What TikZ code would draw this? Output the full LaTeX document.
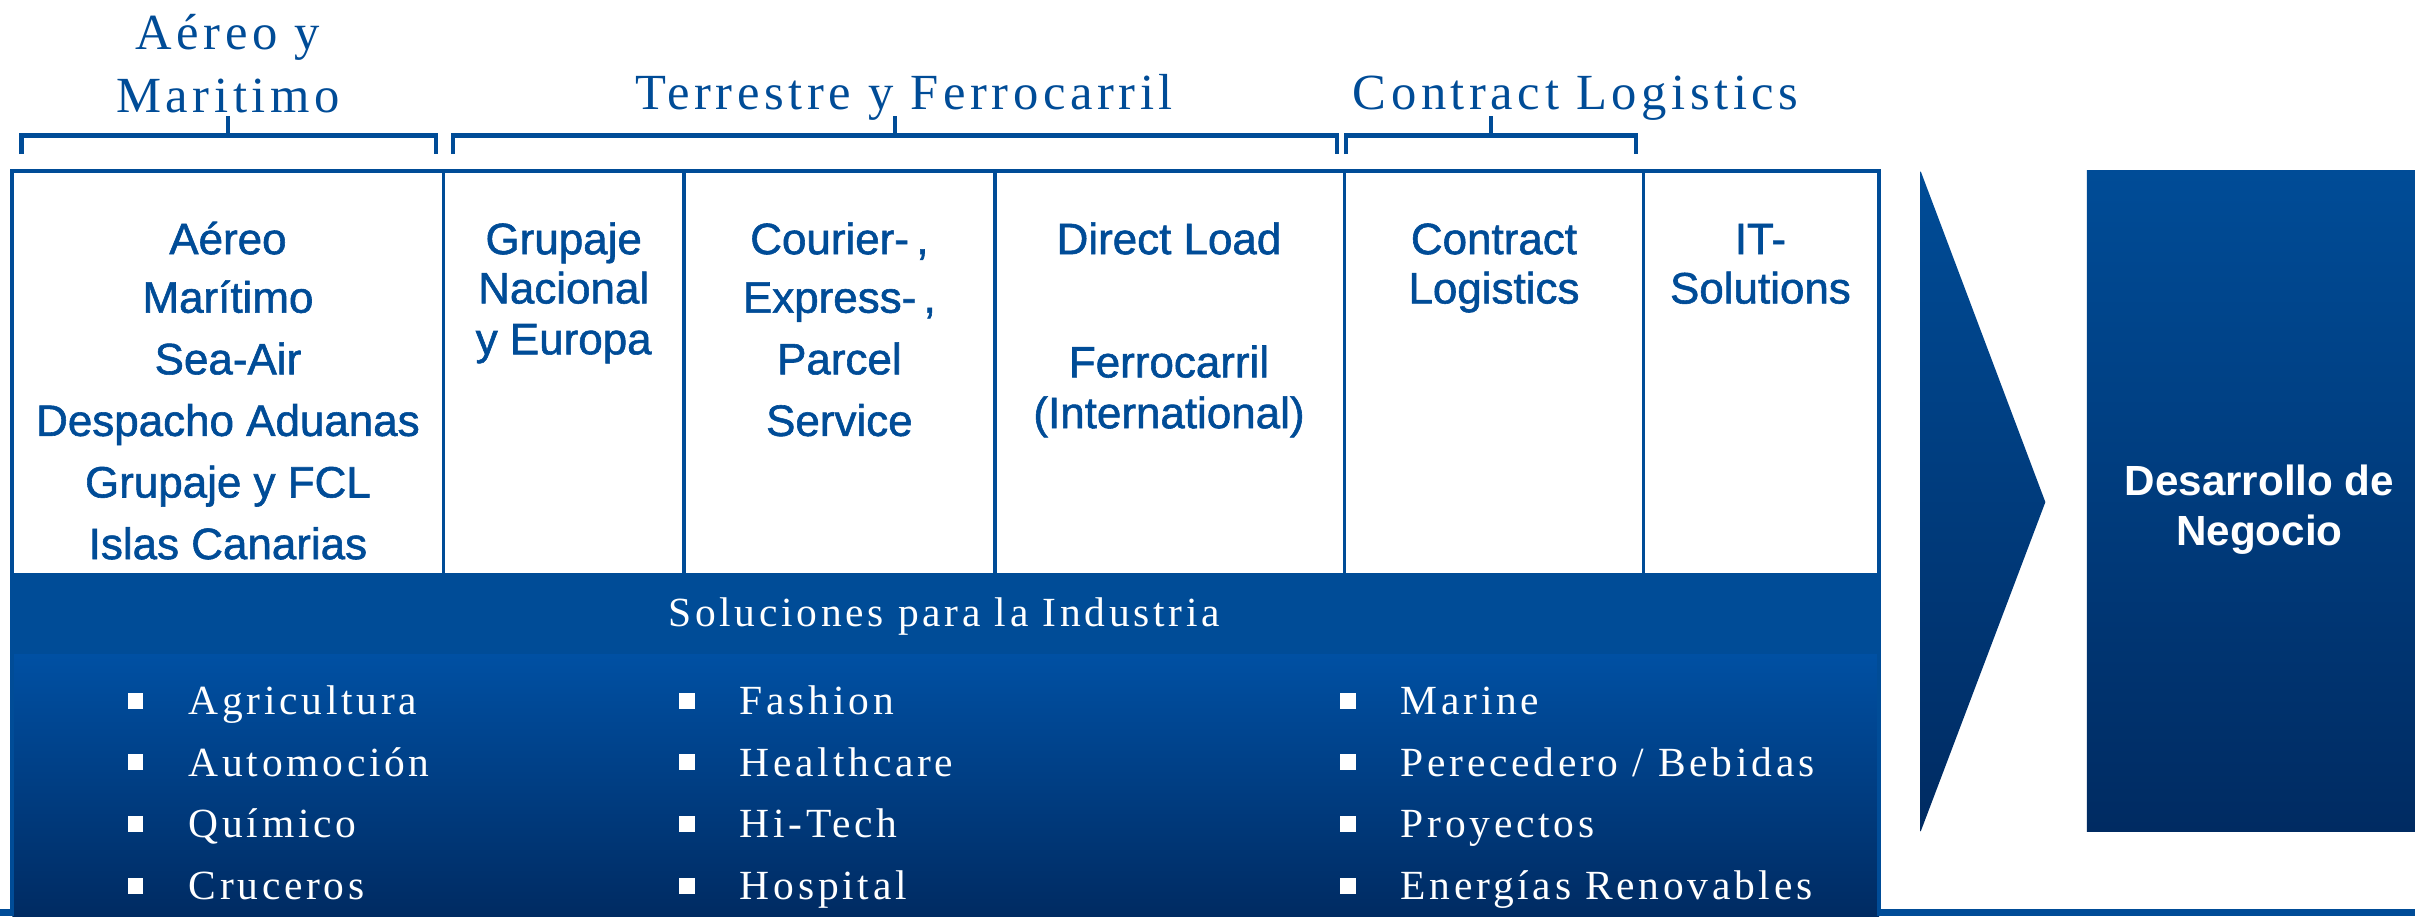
\documentclass[tikz,border=0pt]{standalone}
\usepackage{fontspec}
\setmainfont{Liberation Serif}
\newfontfamily\spacedserif[LetterSpace=9]{Liberation Serif}
\newfontfamily\colsans[FakeBold=1.3]{Liberation Sans}
\newfontfamily\plainsans{Liberation Sans}
\usetikzlibrary{calc}
\definecolor{dbblue}{HTML}{004C97}
\definecolor{dbmid}{HTML}{0050A3}
\definecolor{dbdark}{HTML}{002B62}
\tikzset{header/.style={font=\spacedserif\fontsize{14.4}{17}\selectfont, text=dbblue, anchor=base, inner sep=0pt}}
\tikzset{coltext/.style={font=\colsans\fontsize{12.5}{15}\selectfont, text=dbblue, anchor=base, inner sep=0pt}}
\tikzset{bullettext/.style={font=\spacedserif\fontsize{11.8}{14}\selectfont, text=white, anchor=base west, inner sep=0pt}}
\tikzset{bulletsq/.style={fill=white, minimum size=4.5pt, inner sep=0pt}}
\tikzset{frame/.style={draw=dbblue, line width=1.1pt}}

\begin{document}
\begin{tikzpicture}[x=0.0154cm,y=-0.0154cm]
  \fill[white] (0,0) rectangle (1568,595);
  \useasboundingbox (0,0) rectangle (1568,595);
  % bottom rule
  \fill[dbblue] (0,590) rectangle (1568,595);
  % industry panel
  \fill[dbblue] (8,373) rectangle (1220,425);
  \shade[top color=dbmid, bottom color=dbdark] (8,425) rectangle (1220,595);
  \draw[frame] (8,595) -- (8,111) -- (1220,111) -- (1220,595);
  \draw[frame] (8,373) -- (1220,373);
  \foreach \x in {288,444,646,873,1067} {
    \draw[frame, line width=1pt] (\x,111) -- (\x,373);
  }
  % brackets
  \foreach \a/\b/\m in {
    14/283/148,
    294/868/581,
    874/1062/968%
  } {
    \draw[frame, line width=1.2pt] (\a,100) -- (\a,88) -- (\b,88) -- (\b,100);
    \draw[frame, line width=1.2pt] (\m,88) -- (\m,75);
  }
  \foreach \x/\y/\txt [count=\i] in {
    148/32/Aéreo y,
    148/73/Maritimo,
    587/71/Terrestre y Ferrocarril,
    1023/71/Contract Logistics%
  } {
    \node[header] (head\i) at (\x,\y) {\txt};
  }
  \foreach \x/\y/\txt [count=\i] in {
    148/165/Aéreo, 148/203/Marítimo, 148/243/Sea-Air,
    148/283/Despacho Aduanas, 148/323/Grupaje y FCL, 148/363/Islas Canarias,
    366/165/Grupaje, 366/197/Nacional, 366/230/y Europa,
    545/165/{Courier-\,,}, 545/203/{Express-\,,}, 545/243/Parcel, 545/283/Service,
    759/165/Direct Load, 759/245/Ferrocarril, 759/278/(International),
    970/165/Contract, 970/197/Logistics,
    1143/165/IT-, 1143/197/Solutions%
  } {
    \node[coltext] (col\i) at (\x,\y) {\txt};
  }
  \node[bullettext, anchor=base] (soluciones) at (613,407) {Soluciones para la Industria};
  \foreach \x/\y/\txt [count=\i] in {
    122/464/Agricultura, 122/504/Automoción, 122/544/Químico, 122/584/Cruceros,
    480/464/Fashion, 480/504/Healthcare, 480/544/Hi-Tech, 480/584/Hospital,
    909/464/Marine, 909/504/{Perecedero / Bebidas}, 909/544/Proyectos, 909/584/Energías Renovables%
  } {
    \node[bulletsq] (sq\i) at (\x-34,\y-9) {};
    \node[bullettext] (ind\i) at (\x,\y) {\txt};
  }
  % arrow and target box
  \shade[top color=dbblue, bottom color=dbdark] (1247,111) -- (1328,326) -- (1247,540) -- cycle;
  \shade[top color=dbblue, bottom color=dbdark] (1355,111) rectangle (1568,540);
  \node[coltext, text=white, font=\plainsans\bfseries\fontsize{12}{14}\selectfont] (desarrollo) at (1467,322) {Desarrollo de};
  \node[coltext, text=white, font=\plainsans\bfseries\fontsize{12}{14}\selectfont] (negocio) at (1467,354) {Negocio};
\end{tikzpicture}
\end{document}
